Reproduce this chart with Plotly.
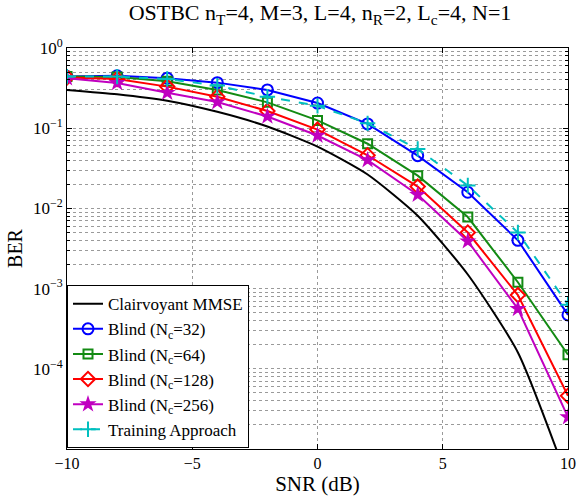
import plotly.graph_objects as go

snr = [-10, -8, -6, -4, -2, 0, 2, 4, 6, 8, 10]
ber_clair = [0.30, 0.265, 0.22, 0.16, 0.105, 0.059, 0.0265, 0.0081, 0.0015, 0.00016, 0.000004]
ber_nc32 = [0.44, 0.45, 0.42, 0.37, 0.30, 0.206, 0.113, 0.0455, 0.0159, 0.0040, 0.00047]
ber_nc64 = [0.44, 0.435, 0.385, 0.30, 0.21, 0.125, 0.064, 0.0256, 0.0078, 0.0012, 0.00015]
ber_nc128 = [0.43, 0.41, 0.33, 0.247, 0.164, 0.096, 0.046, 0.0187, 0.0050, 0.00083, 0.000046]
ber_nc256 = [0.42, 0.367, 0.277, 0.212, 0.14, 0.081, 0.040, 0.0148, 0.0039, 0.00056, 0.000025]
ber_train = [0.44, 0.44, 0.41, 0.34, 0.247, 0.19, 0.115, 0.055, 0.0193, 0.005, 0.00063]

title = "OSTBC n<sub>T</sub>=4, M=3, L=4, n<sub>R</sub>=2, L<sub>c</sub>=4, N=1"
ytickvals = [1, 0.1, 0.01, 0.001, 0.0001]
yticktext = ["10<sup>0</sup>", "10<sup>−1</sup>", "10<sup>−2</sup>", "10<sup>−3</sup>", "10<sup>−4</sup>"]
xtickvals = [-10, -5, 0, 5, 10]
xticktext = ["−10", "−5", "0", "5", "10"]

FONT = "Liberation Serif"
fig = go.Figure()
fig.add_trace(go.Scatter(x=snr, y=ber_clair, mode="lines", name="Clairvoyant MMSE",
                         line=dict(color="black", width=2, shape="spline", smoothing=0.6)))
fig.add_trace(go.Scatter(x=snr, y=ber_nc32, mode="lines+markers", name="Blind (N<sub>c</sub>=32)",
                         line=dict(color="#0000FF", width=2),
                         marker=dict(symbol="circle-open", size=11, color="#0000FF", line=dict(width=2))))
fig.add_trace(go.Scatter(x=snr, y=ber_nc64, mode="lines+markers", name="Blind (N<sub>c</sub>=64)",
                         line=dict(color="#138A13", width=2),
                         marker=dict(symbol="square-open", size=9, color="#138A13", line=dict(width=2))))
fig.add_trace(go.Scatter(x=snr, y=ber_nc128, mode="lines+markers", name="Blind (N<sub>c</sub>=128)",
                         line=dict(color="#FF0000", width=2),
                         marker=dict(symbol="diamond-open", size=11, color="#FF0000", line=dict(width=2))))
fig.add_trace(go.Scatter(x=snr, y=ber_nc256, mode="lines+markers", name="Blind (N<sub>c</sub>=256)",
                         line=dict(color="#C000C0", width=2),
                         marker=dict(symbol="star", size=13, color="#C000C0")))
fig.add_trace(go.Scatter(x=snr, y=ber_train, mode="lines+markers", name="Training Approach",
                         line=dict(color="#00BFBF", width=2, dash="dash"),
                         marker=dict(symbol="cross-thin-open", size=11, color="#00BFBF", line=dict(width=2, color="#00BFBF"))))

grid = dict(gridcolor="#9a9a9a", griddash="dot", gridwidth=1)
fig.update_layout(
    width=585, height=496,
    margin=dict(l=67, r=9, t=48, b=42),
    paper_bgcolor="white", plot_bgcolor="white",
    font=dict(family=FONT, size=16, color="black"),
    title=dict(text=title, x=0.547, xanchor="center", yref="container", y=0.99, yanchor="top",
               font=dict(family=FONT, size=22)),
    showlegend=True,
    legend=dict(x=0.0, y=0.002, xanchor="left", yanchor="bottom", bgcolor="white",
                bordercolor="black", borderwidth=1, font=dict(family=FONT, size=17),
                tracegroupgap=0, itemwidth=30),
    xaxis=dict(range=[-10, 10], tickvals=xtickvals, ticktext=xticktext, showgrid=True, **grid,
               ticks="inside", ticklen=5, tickcolor="black", showline=True, linecolor="black",
               linewidth=1, mirror="ticks", zeroline=False, tickfont=dict(size=16),
               title=dict(text="SNR (dB)", standoff=0, font=dict(family=FONT, size=21))),
    yaxis=dict(type="log", range=[-5, 0], tickvals=ytickvals, ticktext=yticktext, showgrid=True, **grid,
               ticks="inside", ticklen=5, tickcolor="black", showline=True, linecolor="black",
               linewidth=1, mirror="ticks", zeroline=False, tickfont=dict(size=17),
               minor=dict(dtick="D1", showgrid=True, gridcolor="#9a9a9a", griddash="dot",
                          ticks="inside", ticklen=3, tickcolor="black"),
               title=dict(text="BER", standoff=4, font=dict(family=FONT, size=20))),
)
fig.write_html("out.html")
